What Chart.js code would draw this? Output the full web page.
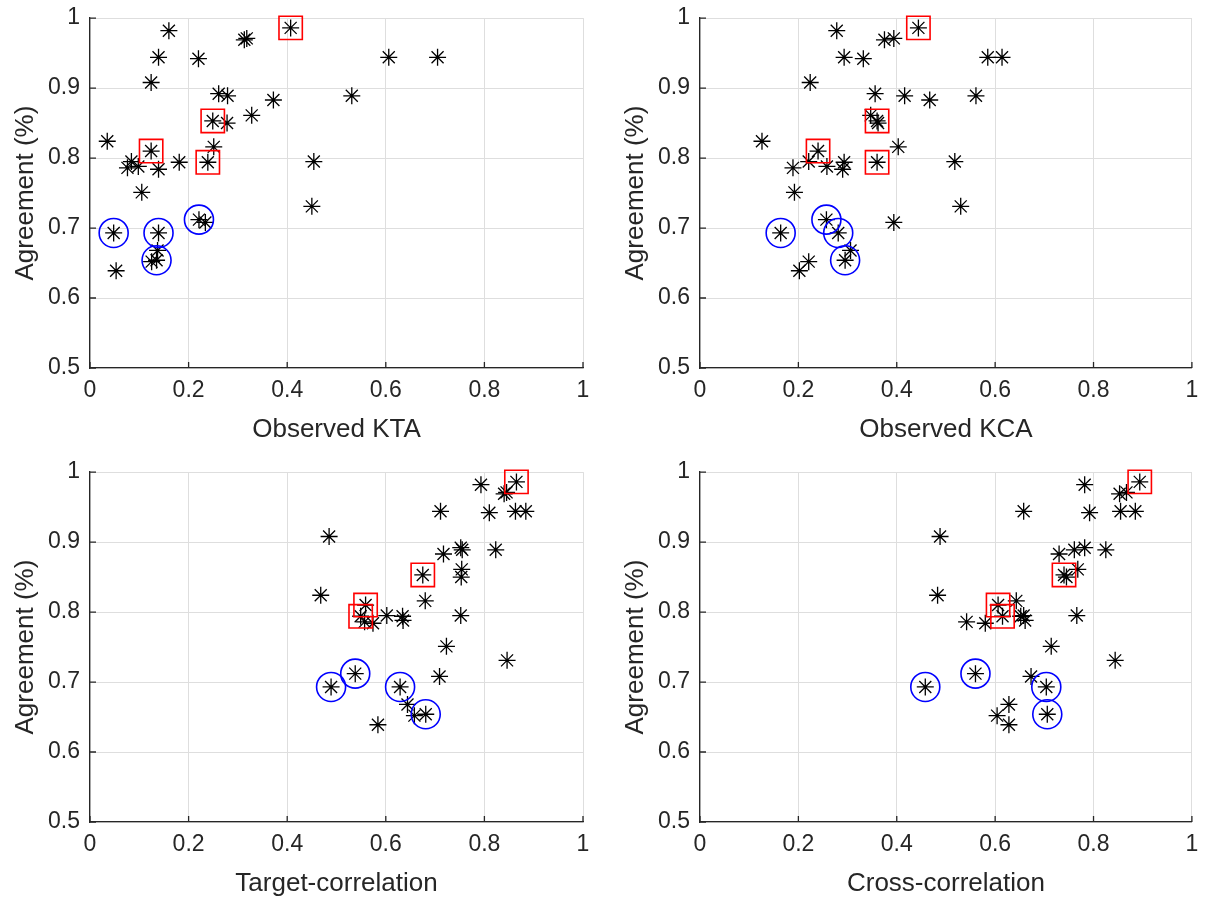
<!DOCTYPE html>
<html>
<head>
<meta charset="utf-8">
<title>Agreement vs KTA / KCA / correlation</title>
<script src="https://cdn.jsdelivr.net/npm/chart.js@4.4.1/dist/chart.umd.min.js"></script>
<style>
  html, body { margin: 0; background: #fff; overflow: hidden; }
  .panel { position: absolute; }
</style>
</head>
<body>
<div class="panel" style="left:0px;top:0px"><canvas id="c1" width="605" height="451"></canvas></div>
<div class="panel" style="left:610px;top:0px"><canvas id="c2" width="600" height="451"></canvas></div>
<div class="panel" style="left:0px;top:454px"><canvas id="c3" width="605" height="451"></canvas></div>
<div class="panel" style="left:610px;top:454px"><canvas id="c4" width="600" height="451"></canvas></div>
<script>
// agreement per participant (same y for all four panels)
const agreement = [0.986, 0.982, 0.969, 0.971, 0.944, 0.942, 0.944, 0.944, 0.908, 0.892, 0.889, 0.883,
  0.889, 0.861, 0.853, 0.850, 0.824, 0.816, 0.810, 0.794, 0.795, 0.786, 0.788, 0.784,
  0.794, 0.795, 0.751, 0.731, 0.712, 0.708, 0.693, 0.693, 0.668, 0.654, 0.652, 0.639];

const kta = [0.407, 0.160, 0.313, 0.318, 0.139, 0.220, 0.606, 0.705, 0.124, 0.261, 0.279, 0.372,
  0.531, 0.328, 0.249, 0.278, 0.035, 0.251, 0.124, 0.239, 0.084, 0.076, 0.098, 0.139,
  0.181, 0.454, 0.105, 0.450, 0.221, 0.234, 0.048, 0.139, 0.137, 0.135, 0.125, 0.053];

const kca = [0.444, 0.278, 0.375, 0.394, 0.293, 0.332, 0.585, 0.614, 0.224, 0.356, 0.416, 0.467,
  0.561, 0.347, 0.360, 0.362, 0.126, 0.403, 0.240, 0.360, 0.221, 0.189, 0.258, 0.290,
  0.293, 0.518, 0.192, 0.530, 0.257, 0.394, 0.164, 0.281, 0.306, 0.295, 0.221, 0.202];

const targetCorr = [0.865, 0.793, 0.840, 0.845, 0.711, 0.810, 0.863, 0.884, 0.485, 0.752, 0.755, 0.717,
  0.823, 0.754, 0.675, 0.753, 0.468, 0.680, 0.559, 0.549, 0.602, 0.557, 0.635, 0.574,
  0.634, 0.752, 0.723, 0.846, 0.538, 0.709, 0.489, 0.629, 0.644, 0.681, 0.658, 0.584];

const crossCorr = [0.894, 0.782, 0.853, 0.867, 0.658, 0.792, 0.855, 0.885, 0.488, 0.782, 0.761, 0.730,
  0.825, 0.768, 0.740, 0.745, 0.483, 0.643, 0.606, 0.615, 0.658, 0.542, 0.661, 0.580,
  0.652, 0.766, 0.714, 0.844, 0.560, 0.673, 0.458, 0.704, 0.628, 0.706, 0.604, 0.628];

// highlighted participants
const redIdx = [0, 14, 18, 19];    // red squares
const blueIdx = [28, 30, 31, 33];  // blue circles

const xTicks = [0, 0.2, 0.4, 0.6, 0.8, 1];
const yTicks = [0.5, 0.6, 0.7, 0.8, 0.9, 1];

const FONT = "'Liberation Sans', Arial, sans-serif";
const AXIS = '#262626';

// MATLAB style ticks pointing inside the axes
const innerTicks = {
  id: 'innerTicks',
  afterDraw(chart) {
    const ctx = chart.ctx;
    const xs = chart.scales.x, ys = chart.scales.y;
    const a = chart.chartArea;
    ctx.save();
    ctx.strokeStyle = AXIS;
    ctx.lineWidth = 1.3;
    ctx.beginPath();
    xTicks.forEach(v => {
      const px = xs.getPixelForValue(v);
      ctx.moveTo(px, a.bottom);
      ctx.lineTo(px, a.bottom - 6);
    });
    yTicks.forEach(v => {
      const py = ys.getPixelForValue(v);
      ctx.moveTo(a.left, py);
      ctx.lineTo(a.left + 6, py);
    });
    ctx.stroke();
    ctx.restore();
  }
};

function makePanel(id, xs, xTitle, rightPad) {
  const pts = xs.map((x, i) => ({ x: x, y: agreement[i] }));
  new Chart(document.getElementById(id), {
    type: 'scatter',
    data: {
      datasets: [
        {
          data: redIdx.map(i => pts[i]),
          pointStyle: 'rect', pointRadius: 16.5, borderColor: '#ff0000',
          backgroundColor: 'rgba(0,0,0,0)', borderWidth: 1.6, clip: false
        },
        {
          data: blueIdx.map(i => pts[i]),
          pointStyle: 'circle', pointRadius: 14.5, borderColor: '#0000ff',
          backgroundColor: 'rgba(0,0,0,0)', borderWidth: 1.6, clip: false
        },
        {
          data: pts,
          pointStyle: 'star', pointRadius: 8.5, borderColor: '#000000',
          backgroundColor: '#000000', borderWidth: 1.3, clip: false
        }
      ]
    },
    options: {
      responsive: false,
      animation: false,
      layout: { padding: { top: 18, right: rightPad, left: 0, bottom: 0 } },
      plugins: { legend: { display: false }, tooltip: { enabled: false } },
      scales: {
        x: {
          type: 'linear', min: 0, max: 1,
          afterFit: s => { s.height = 83; },
          afterBuildTicks: s => { s.ticks = xTicks.map(v => ({ value: v })); },
          ticks: {
            color: AXIS, padding: 9, maxRotation: 0,
            font: { family: FONT, size: 23 },
            callback: v => String(+v.toFixed(1))
          },
          grid: { color: '#dedede', lineWidth: 1, drawTicks: false },
          border: { color: AXIS, width: 1.3 },
          title: {
            display: true, text: xTitle, color: AXIS,
            font: { family: FONT, size: 26 }, padding: { top: 0, bottom: 6 }
          }
        },
        y: {
          type: 'linear', min: 0.5, max: 1,
          // fixed width, and no extra room above for the top tick label
          afterFit: s => { s.width = 90; s.paddingTop = 0; s.paddingBottom = 0; },
          afterBuildTicks: s => { s.ticks = yTicks.map(v => ({ value: v })); },
          ticks: {
            color: AXIS, padding: 10,
            font: { family: FONT, size: 23 },
            callback: v => String(+v.toFixed(1))
          },
          grid: { color: '#dedede', lineWidth: 1, drawTicks: false },
          border: { color: AXIS, width: 1.3 },
          title: {
            display: true, text: 'Agreement (%)', color: AXIS,
            font: { family: FONT, size: 26 }, padding: { top: 10, bottom: 0 }
          }
        }
      }
    },
    plugins: [innerTicks]
  });
}

makePanel('c1', kta, 'Observed KTA', 22);
makePanel('c2', kca, 'Observed KCA', 18);
makePanel('c3', targetCorr, 'Target-correlation', 22);
makePanel('c4', crossCorr, 'Cross-correlation', 18);
</script>
</body>
</html>
